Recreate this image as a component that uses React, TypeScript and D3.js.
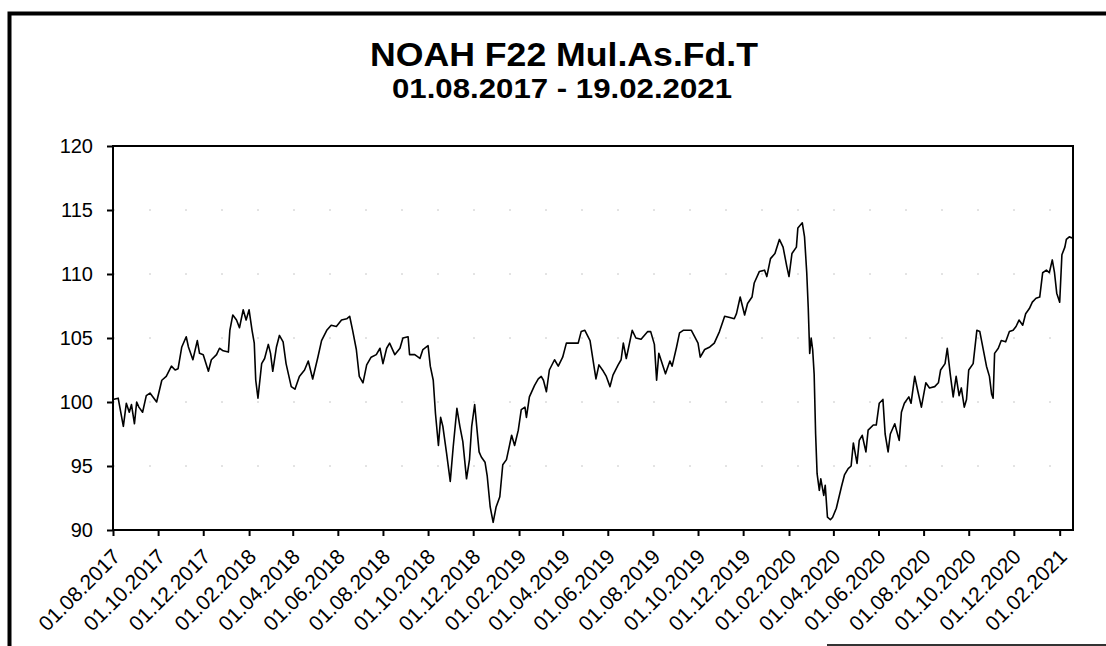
import React, { useRef, useEffect } from "react";
import * as d3 from "d3";

// [date, value], split per year
const series2017: [string, number][] = [
  ["01.08.2017", 100.2], ["08.08.2017", 100.3], ["15.08.2017", 98.1], ["19.08.2017", 99.9], ["23.08.2017", 99.2],
  ["26.08.2017", 99.8], ["30.08.2017", 98.3], ["02.09.2017", 100.0], ["05.09.2017", 99.6], ["10.09.2017", 99.2],
  ["15.09.2017", 100.5], ["20.09.2017", 100.7], ["29.09.2017", 100.0], ["06.10.2017", 101.7], ["12.10.2017", 102.0],
  ["19.10.2017", 102.8], ["24.10.2017", 102.5], ["28.10.2017", 102.6], ["02.11.2017", 104.3], ["08.11.2017", 105.1],
  ["11.11.2017", 104.3], ["17.11.2017", 103.3], ["23.11.2017", 104.8], ["26.11.2017", 103.8], ["01.12.2017", 103.7],
  ["08.12.2017", 102.4], ["12.12.2017", 103.3], ["19.12.2017", 103.7], ["23.12.2017", 104.2], ["28.12.2017", 104.0],
];

const series2018: [string, number][] = [
  ["04.01.2018", 103.9], ["06.01.2018", 105.6], ["10.01.2018", 106.8], ["15.01.2018", 106.4], ["19.01.2018", 105.8],
  ["24.01.2018", 107.2], ["28.01.2018", 106.4], ["01.02.2018", 107.2], ["05.02.2018", 105.6], ["08.02.2018", 104.6],
  ["10.02.2018", 101.7], ["13.02.2018", 100.3], ["18.02.2018", 103.0], ["22.02.2018", 103.4], ["27.02.2018", 104.5],
  ["02.03.2018", 103.8], ["05.03.2018", 102.4], ["10.03.2018", 104.3], ["14.03.2018", 105.2], ["19.03.2018", 104.7],
  ["23.03.2018", 103.0], ["30.03.2018", 101.2], ["04.04.2018", 101.0], ["10.04.2018", 102.0], ["17.04.2018", 102.5],
  ["22.04.2018", 103.2], ["28.04.2018", 101.8], ["05.05.2018", 103.5], ["10.05.2018", 104.8], ["17.05.2018", 105.6],
  ["23.05.2018", 106.0], ["30.05.2018", 105.9], ["06.06.2018", 106.4], ["13.06.2018", 106.5], ["17.06.2018", 106.7],
  ["21.06.2018", 105.6], ["26.06.2018", 104.1], ["30.06.2018", 102.0], ["05.07.2018", 101.5], ["10.07.2018", 102.9],
  ["16.07.2018", 103.5], ["23.07.2018", 103.7], ["28.07.2018", 104.2], ["01.08.2018", 103.0], ["06.08.2018", 104.2],
  ["10.08.2018", 104.6], ["17.08.2018", 103.7], ["24.08.2018", 104.2], ["28.08.2018", 105.0], ["04.09.2018", 105.1],
  ["06.09.2018", 103.7], ["13.09.2018", 103.7], ["20.09.2018", 103.4], ["24.09.2018", 104.1], ["01.10.2018", 104.4],
  ["04.10.2018", 102.8], ["08.10.2018", 101.7], ["11.10.2018", 99.1], ["15.10.2018", 96.6], ["18.10.2018", 98.8],
  ["21.10.2018", 98.1], ["26.10.2018", 96.0], ["31.10.2018", 93.8], ["04.11.2018", 96.5], ["09.11.2018", 99.5],
  ["13.11.2018", 98.1], ["17.11.2018", 96.9], ["22.11.2018", 94.0], ["26.11.2018", 95.5], ["29.11.2018", 98.1],
  ["03.12.2018", 99.8], ["09.12.2018", 96.1], ["12.12.2018", 95.7], ["17.12.2018", 95.3], ["20.12.2018", 94.2],
  ["24.12.2018", 91.8], ["28.12.2018", 90.6],
];

const series2019: [string, number][] = [
  ["01.01.2019", 91.8], ["06.01.2019", 92.6], ["10.01.2019", 95.1], ["15.01.2019", 95.5], ["22.01.2019", 97.4],
  ["26.01.2019", 96.6], ["31.01.2019", 97.8], ["04.02.2019", 99.4], ["09.02.2019", 99.6], ["11.02.2019", 98.8],
  ["15.02.2019", 100.4], ["22.02.2019", 101.3], ["27.02.2019", 101.8], ["03.03.2019", 102.0], ["06.03.2019", 101.7],
  ["10.03.2019", 100.8], ["14.03.2019", 102.5], ["21.03.2019", 103.3], ["26.03.2019", 102.8], ["01.04.2019", 103.5],
  ["06.04.2019", 104.6], ["13.04.2019", 104.6], ["22.04.2019", 104.6], ["26.04.2019", 105.5], ["01.05.2019", 105.6],
  ["08.05.2019", 104.8], ["12.05.2019", 103.3], ["16.05.2019", 101.8], ["20.05.2019", 102.9], ["26.05.2019", 102.4],
  ["30.05.2019", 102.0], ["04.06.2019", 101.2], ["08.06.2019", 102.1], ["15.06.2019", 102.9], ["19.06.2019", 103.3],
  ["22.06.2019", 104.6], ["26.06.2019", 103.4], ["04.07.2019", 105.6], ["09.07.2019", 105.0], ["16.07.2019", 104.9],
  ["25.07.2019", 105.5], ["29.07.2019", 105.5], ["03.08.2019", 104.5], ["06.08.2019", 101.7], ["09.08.2019", 103.8],
  ["18.08.2019", 102.2], ["24.08.2019", 103.2], ["27.08.2019", 102.8], ["02.09.2019", 104.3], ["06.09.2019", 105.4],
  ["11.09.2019", 105.6], ["22.09.2019", 105.6], ["01.10.2019", 104.6], ["04.10.2019", 103.5], ["10.10.2019", 104.1],
  ["17.10.2019", 104.3], ["23.10.2019", 104.6], ["30.10.2019", 105.5], ["06.11.2019", 106.7], ["13.11.2019", 106.6],
  ["19.11.2019", 106.5], ["22.11.2019", 106.9], ["27.11.2019", 108.2], ["03.12.2019", 106.8], ["07.12.2019", 107.7],
  ["13.12.2019", 108.2], ["16.12.2019", 109.3], ["23.12.2019", 110.2], ["30.12.2019", 110.3],
];

const series2020: [string, number][] = [
  ["02.01.2020", 109.8], ["07.01.2020", 111.2], ["13.01.2020", 111.6], ["19.01.2020", 112.7], ["24.01.2020", 112.1],
  ["29.01.2020", 110.6], ["01.02.2020", 109.8], ["05.02.2020", 111.6], ["11.02.2020", 112.1], ["13.02.2020", 113.6],
  ["19.02.2020", 114.0], ["22.02.2020", 112.9], ["25.02.2020", 110.1], ["27.02.2020", 107.4], ["29.02.2020", 103.8],
  ["02.03.2020", 105.0], ["04.03.2020", 104.1], ["06.03.2020", 102.2], ["08.03.2020", 97.5], ["10.03.2020", 94.4],
  ["13.03.2020", 93.1], ["15.03.2020", 94.0], ["19.03.2020", 92.7], ["21.03.2020", 93.5], ["24.03.2020", 91.0],
  ["28.03.2020", 90.8], ["31.03.2020", 91.0], ["05.04.2020", 91.7], ["12.04.2020", 93.4], ["16.04.2020", 94.3],
  ["21.04.2020", 94.8], ["25.04.2020", 95.0], ["28.04.2020", 96.8], ["03.05.2020", 95.2], ["06.05.2020", 97.0],
  ["10.05.2020", 97.4], ["15.05.2020", 96.1], ["18.05.2020", 97.8], ["25.05.2020", 98.2], ["29.05.2020", 98.2],
  ["02.06.2020", 99.9], ["07.06.2020", 100.2], ["10.06.2020", 97.5], ["14.06.2020", 96.1], ["17.06.2020", 97.5],
  ["23.06.2020", 98.3], ["29.06.2020", 97.0], ["02.07.2020", 99.2], ["06.07.2020", 99.9], ["12.07.2020", 100.4],
  ["15.07.2020", 99.9], ["20.07.2020", 102.0], ["24.07.2020", 100.9], ["29.07.2020", 99.6], ["04.08.2020", 101.5],
  ["09.08.2020", 101.1], ["16.08.2020", 101.2], ["21.08.2020", 101.5], ["24.08.2020", 102.5], ["30.08.2020", 103.0],
  ["02.09.2020", 104.2], ["06.09.2020", 102.2], ["10.09.2020", 100.4], ["14.09.2020", 102.0], ["18.09.2020", 100.5],
  ["21.09.2020", 101.1], ["25.09.2020", 99.6], ["28.09.2020", 100.2], ["01.10.2020", 102.5], ["07.10.2020", 103.0],
  ["12.10.2020", 105.6], ["16.10.2020", 105.5], ["19.10.2020", 104.6], ["25.10.2020", 102.8], ["29.10.2020", 102.0],
  ["01.11.2020", 100.6], ["03.11.2020", 100.3], ["05.11.2020", 103.8], ["10.11.2020", 104.2], ["14.11.2020", 104.8],
  ["20.11.2020", 104.7], ["25.11.2020", 105.5], ["30.11.2020", 105.6], ["04.12.2020", 105.9], ["08.12.2020", 106.4],
  ["13.12.2020", 106.0], ["17.12.2020", 106.9], ["22.12.2020", 107.3], ["26.12.2020", 107.8], ["31.12.2020", 108.1],
];

const series2021: [string, number][] = [
  ["05.01.2021", 108.2], ["09.01.2021", 110.1], ["14.01.2021", 110.3], ["18.01.2021", 110.1], ["22.01.2021", 111.1],
  ["25.01.2021", 110.1], ["28.01.2021", 108.5], ["01.02.2021", 107.8], ["04.02.2021", 111.5], ["08.02.2021", 112.1],
  ["10.02.2021", 112.7], ["14.02.2021", 112.9], ["19.02.2021", 112.8],
];

const xTickLabels = [
  "01.08.2017", "01.10.2017", "01.12.2017", "01.02.2018", "01.04.2018", "01.06.2018", "01.08.2018",
  "01.10.2018", "01.12.2018", "01.02.2019", "01.04.2019", "01.06.2019", "01.08.2019", "01.10.2019",
  "01.12.2019", "01.02.2020", "01.04.2020", "01.06.2020", "01.08.2020", "01.10.2020", "01.12.2020",
  "01.02.2021",
];
const yTicks = [90, 95, 100, 105, 110, 115, 120];

const title = "NOAH F22 Mul.As.Fd.T";
const subtitle = "01.08.2017 - 19.02.2021";
const startDate = "01.08.2017";
const endDate = "19.02.2021";

const font = "'Liberation Sans', Arial, sans-serif";
const parse = d3.timeParse("%d.%m.%Y");
const fmt = d3.timeFormat("%d.%m.%Y");

const App = () => {
  const xAxisRef = useRef(null);
  const yAxisRef = useRef(null);
  const gridRef = useRef(null);

  const left = 113;
  const right = 1073;
  const top = 146;
  const bottom = 530;

  const x = d3.scaleTime().domain([parse(startDate), parse(endDate)]).range([left, right]);
  const y = d3.scaleLinear().domain([90, 120]).range([bottom, top]);

  const data = [...series2017, ...series2018, ...series2019, ...series2020, ...series2021]
    .map(([d, v]) => ({ date: parse(d), value: v }));

  const line = d3.line<any>()
    .x((d) => x(d.date))
    .y((d) => y(d.value));

  useEffect(() => {
    // x axis, labels at 45 degrees
    const xAxis = d3.select(xAxisRef.current);
    xAxis
      .attr("transform", "translate(0," + bottom + ")")
      .call(d3.axisBottom(x).tickValues(xTickLabels.map((s) => parse(s))).tickFormat(fmt).tickSize(6).tickSizeOuter(0));
    xAxis.select(".domain").remove();
    xAxis.selectAll(".tick line").attr("stroke", "#000").attr("stroke-width", 2);
    xAxis.selectAll(".tick text")
      .attr("x", 0)
      .attr("y", 0)
      .attr("dy", 0)
      .attr("text-anchor", "end")
      .attr("transform", "translate(8,28) rotate(-45)")
      .attr("font-size", 21)
      .attr("font-family", font)
      .attr("fill", "#000");

    // y axis
    const yAxis = d3.select(yAxisRef.current);
    yAxis
      .attr("transform", "translate(" + left + ",0)")
      .call(d3.axisLeft(y).tickValues(yTicks).tickSize(6).tickPadding(14).tickSizeOuter(0));
    yAxis.select(".domain").remove();
    yAxis.selectAll(".tick line").attr("stroke", "#000").attr("stroke-width", 2);
    yAxis.selectAll(".tick text")
      .attr("font-size", 20)
      .attr("font-family", font)
      .attr("fill", "#000");

    // faint dotted grid
    const grid = d3.select(gridRef.current);
    const update = grid.selectAll("line").data(yTicks.slice(1, -1));
    update.enter()
      .append("line")
      .attr("x1", left)
      .attr("x2", right)
      .attr("y1", (d) => y(d))
      .attr("y2", (d) => y(d))
      .attr("stroke", "#c8c8c8")
      .attr("stroke-width", 1)
      .attr("stroke-dasharray", "2,34");
    update.exit().remove();
  }, []);

  return (
    <svg width={1106} height={646} style={{ position: "absolute", left: 0, top: 0, background: "#fff" }}>
      {/* scanned outer frame */}
      <path d="M1106,13.5 H9.5 V646" fill="none" stroke="#000" strokeWidth={4} />
      <line x1={827} x2={1106} y1={645} y2={645} stroke="#333" strokeWidth={2} />

      <text x={564} y={66} textAnchor="middle" fontFamily={font} fontWeight="bold" fontSize={33}
        textLength={388} lengthAdjust="spacingAndGlyphs">{title}</text>
      <text x={562} y={98} textAnchor="middle" fontFamily={font} fontWeight="bold" fontSize={27}
        textLength={340} lengthAdjust="spacingAndGlyphs">{subtitle}</text>

      <g ref={gridRef}></g>
      <rect x={left} y={top} width={right - left} height={bottom - top} fill="none" stroke="#000" strokeWidth={2} />
      <g ref={xAxisRef}></g>
      <g ref={yAxisRef}></g>
      <path d={line(data) || ""} fill="none" stroke="#000" strokeWidth={1.6} strokeLinejoin="round" />
    </svg>
  );
};

export default App;
